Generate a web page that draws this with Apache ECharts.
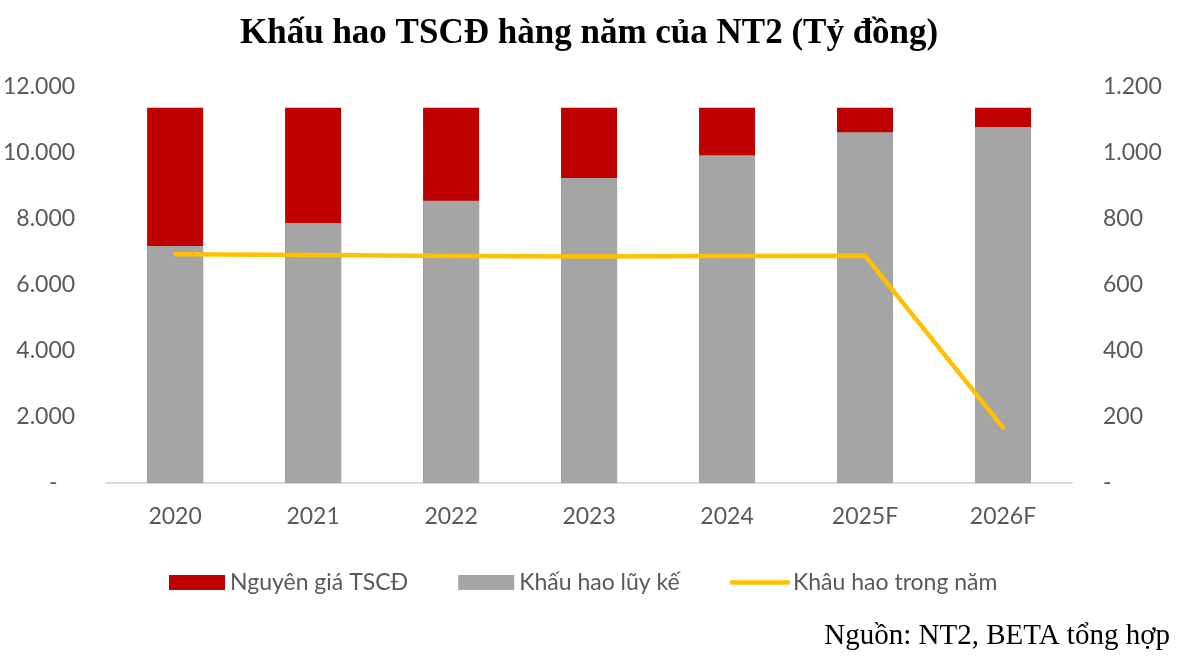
<!DOCTYPE html>
<html>
<head>
<meta charset="utf-8">
<script src="https://cdn.jsdelivr.net/npm/echarts@6/dist/echarts.min.js"></script>
<style>
  html, body { margin: 0; padding: 0; background: #fff; }
  #chart { width: 1182px; height: 657px; }
</style>
</head>
<body>
<div id="chart"></div>
<script>
// du lieu doc tu hinh
var years = ['2020', '2021', '2022', '2023', '2024', '2025F', '2026F'];
var nguyenGia = [11370, 11370, 11370, 11370, 11370, 11370, 11370];
var khauHaoLuyKe = [7180, 7880, 8550, 9240, 9930, 10630, 10790];
var khauHaoTrongNam = [693, 691, 688, 686, 688, 689, 168];

var leftTicks = { min: 0, max: 12000, interval: 2000 };
var rightTicks = { min: 0, max: 1200, interval: 200 };

function fmt(v) {
    if (v === 0) return '-';
    return String(v).replace(/\B(?=(\d{3})+(?!\d))/g, '.');
}

var font = 'Lato';
var chart = echarts.init(document.getElementById('chart'));

var option = {
    backgroundColor: '#fff',
    animation: false,
    title: [{
        text: 'Khấu hao TSCĐ hàng năm của NT2 (Tỷ đồng)',
        left: 235,
        top: 11,
        textStyle: { fontFamily: 'Liberation Serif', fontWeight: 'bold', fontSize: 35, color: '#000' }
    }, {
        text: 'Nguồn: NT2, BETA tổng hợp',
        right: 7,
        top: 617,
        textStyle: { fontFamily: 'Liberation Serif', fontWeight: 'normal', fontSize: 29, color: '#000' }
    }],
    legend: {
        left: 164,
        top: 566,
        itemWidth: 56,
        itemHeight: 15,
        itemGap: 50,
        textStyle: { fontFamily: font, fontSize: 23, color: '#595959' },
        data: [
            { name: 'Nguyên giá TSCĐ', icon: 'rect' },
            { name: 'Khấu hao lũy kế', icon: 'rect' },
            { name: 'Khâu hao trong năm', itemStyle: { opacity: 0 }, lineStyle: { width: 4.5, color: '#FFC000' } }
        ]
    },
    grid: { left: 104, right: 110, top: 87, bottom: 174 },
    xAxis: {
        type: 'category',
        data: years,
        axisLine: { lineStyle: { color: '#d9d9d9', width: 2 } },
        axisTick: { show: false },
        axisLabel: { fontFamily: font, fontSize: 23, color: '#595959', margin: 22 }
    },
    yAxis: [{
        type: 'value',
        min: leftTicks.min, max: leftTicks.max, interval: leftTicks.interval,
        splitLine: { show: false },
        axisLine: { show: false },
        axisTick: { show: false },
        axisLabel: {
            fontFamily: font, fontSize: 23, color: '#595959', margin: 31,
            formatter: function (v) { return v === 0 ? '-   ' : fmt(v); }
        }
    }, {
        type: 'value',
        min: rightTicks.min, max: rightTicks.max, interval: rightTicks.interval,
        splitLine: { show: false },
        axisLine: { show: false },
        axisTick: { show: false },
        axisLabel: {
            fontFamily: font, fontSize: 23, color: '#595959', margin: 31,
            formatter: fmt
        }
    }],
    series: [{
        name: 'Nguyên giá TSCĐ',
        type: 'bar',
        barWidth: 56,
        barGap: '-100%',
        data: nguyenGia,
        itemStyle: { color: '#C00000' }
    }, {
        name: 'Khấu hao lũy kế',
        type: 'bar',
        barWidth: 56,
        barGap: '-100%',
        data: khauHaoLuyKe,
        itemStyle: { color: '#A5A5A5' }
    }, {
        name: 'Khâu hao trong năm',
        type: 'line',
        yAxisIndex: 1,
        data: khauHaoTrongNam,
        symbol: 'none',
        lineStyle: { color: '#FFC000', width: 4.5, cap: 'round', join: 'round' },
        itemStyle: { color: '#FFC000' },
        z: 5
    }]
};
chart.setOption(option);
</script>
</body>
</html>
